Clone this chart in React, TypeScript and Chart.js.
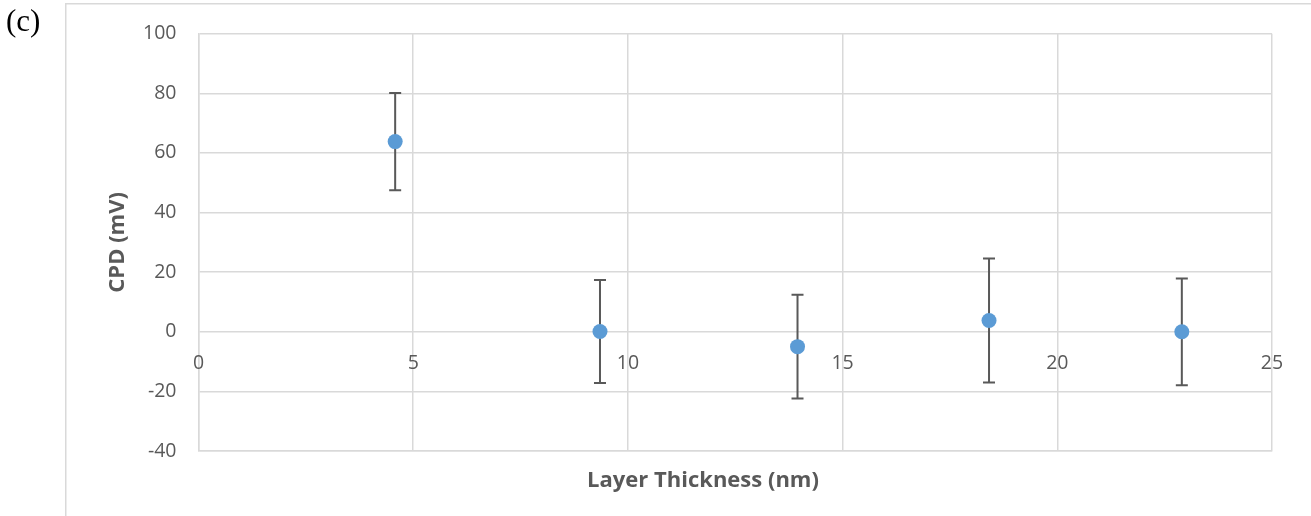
import { useEffect, useRef } from "react";
import { Chart, registerables } from "chart.js";

Chart.register(...registerables);

// Layer thickness (nm) and contact potential difference (mV) with error
const thickness = [4.58, 9.35, 13.95, 18.41, 22.9];
const cpd = [63.8, 0.1, -5.0, 3.8, 0.0];
const cpdError = [16.3, 17.3, 17.4, 20.8, 17.9];

const xTicks = [0, 5, 10, 15, 20, 25];
const yTicks = [-40, -20, 0, 20, 40, 60, 80, 100];

const xTitle = "Layer Thickness (nm)";
const yTitle = "CPD (mV)";

const GRID = "#d9d9d9";
const TEXT = "#595959";
const MARKER = "#5B9BD5";
const FONT = "'Open Sans', 'Noto Sans', sans-serif";

// Panel frame and "(c)" label
const framePlugin = {
  id: "panelFrame",
  beforeDraw(chart: any) {
    const { ctx, width, height } = chart;
    ctx.save();
    ctx.fillStyle = "#ffffff";
    ctx.fillRect(0, 0, width, height);
    ctx.strokeStyle = GRID;
    ctx.lineWidth = 1.5;
    ctx.beginPath();
    ctx.moveTo(65.75, height);
    ctx.lineTo(65.75, 3.75);
    ctx.lineTo(width, 3.75);
    ctx.stroke();
    ctx.fillStyle = "#000000";
    ctx.font = "31px 'Liberation Serif', 'DejaVu Serif', serif";
    ctx.textAlign = "left";
    ctx.textBaseline = "alphabetic";
    ctx.fillText("(c)", 6, 31);
    ctx.restore();
  },
};

// Vertical error bars with caps, drawn beneath the markers
const errorBarPlugin = {
  id: "errorBars",
  beforeDatasetsDraw(chart: any) {
    const { ctx, scales } = chart;
    const xs = scales.x;
    const ys = scales.y;
    ctx.save();
    ctx.strokeStyle = TEXT;
    ctx.lineWidth = 2;
    const cap = 6;
    thickness.forEach((t, i) => {
      const px = xs.getPixelForValue(t);
      const top = ys.getPixelForValue(cpd[i] + cpdError[i]);
      const bot = ys.getPixelForValue(cpd[i] - cpdError[i]);
      ctx.beginPath();
      ctx.moveTo(px, top);
      ctx.lineTo(px, bot);
      ctx.moveTo(px - cap, top);
      ctx.lineTo(px + cap, top);
      ctx.moveTo(px - cap, bot);
      ctx.lineTo(px + cap, bot);
      ctx.stroke();
    });
    ctx.restore();
  },
};

// X tick labels sit beneath the horizontal zero line; x title below the plot
const zeroAxisLabels = {
  id: "zeroAxisLabels",
  afterDraw(chart: any) {
    const { ctx, scales, chartArea } = chart;
    const y0 = scales.y.getPixelForValue(0);
    ctx.save();
    ctx.fillStyle = TEXT;
    ctx.font = `19.5px ${FONT}`;
    ctx.textAlign = "center";
    ctx.textBaseline = "middle";
    xTicks.forEach((v) => {
      ctx.fillText(String(v), scales.x.getPixelForValue(v), y0 + 32);
    });
    ctx.font = `bold 22px ${FONT}`;
    ctx.fillText(xTitle, 703, chartArea.bottom + 30);
    ctx.restore();
  },
};

export default function App() {
  const ref = useRef<HTMLCanvasElement>(null);

  useEffect(() => {
    if (!ref.current) return;
    const chart = new Chart(ref.current, {
      type: "scatter",
      data: {
        datasets: [
          {
            label: yTitle,
            data: thickness.map((t, i) => ({ x: t, y: cpd[i] })),
            backgroundColor: MARKER,
            borderColor: MARKER,
            borderWidth: 0,
            pointRadius: 7.5,
            pointHoverRadius: 7.5,
            showLine: false,
          },
        ],
      },
      options: {
        responsive: false,
        animation: false,
        layout: { padding: { top: 33, right: 39, bottom: 0, left: 0 } },
        plugins: {
          legend: { display: false },
          tooltip: { enabled: false },
        },
        scales: {
          x: {
            type: "linear",
            min: 0,
            max: 25,
            afterBuildTicks: (scale: any) => {
              scale.ticks = xTicks.map((v) => ({ value: v }));
            },
            afterFit: (scale: any) => {
              scale.height = 65;
            },
            grid: { color: GRID, lineWidth: 1.5, drawTicks: false },
            border: { display: true, color: GRID, width: 1.5 },
            ticks: { display: false },
            title: { display: false },
          },
          y: {
            type: "linear",
            min: -40,
            max: 100,
            afterBuildTicks: (scale: any) => {
              scale.ticks = yTicks.map((v) => ({ value: v }));
            },
            afterFit: (scale: any) => {
              scale.width = 198.5;
            },
            grid: { color: GRID, lineWidth: 1.5, drawTicks: false },
            border: { display: true, color: GRID, width: 1.5 },
            ticks: {
              color: TEXT,
              font: { family: FONT, size: 19.5 },
              padding: 22,
            },
            title: {
              display: true,
              text: yTitle,
              color: TEXT,
              font: { family: FONT, size: 22, weight: "bold" },
              padding: { top: 105, bottom: 0 },
            },
          },
        },
      },
      plugins: [framePlugin, errorBarPlugin, zeroAxisLabels],
    } as any);
    return () => chart.destroy();
  }, []);

  return (
    <div style={{ position: "fixed", left: 0, top: 0, width: 1311, height: 516, overflow: "hidden" }}>
      <canvas ref={ref} width={1311} height={516} style={{ display: "block" }} />
    </div>
  );
}
